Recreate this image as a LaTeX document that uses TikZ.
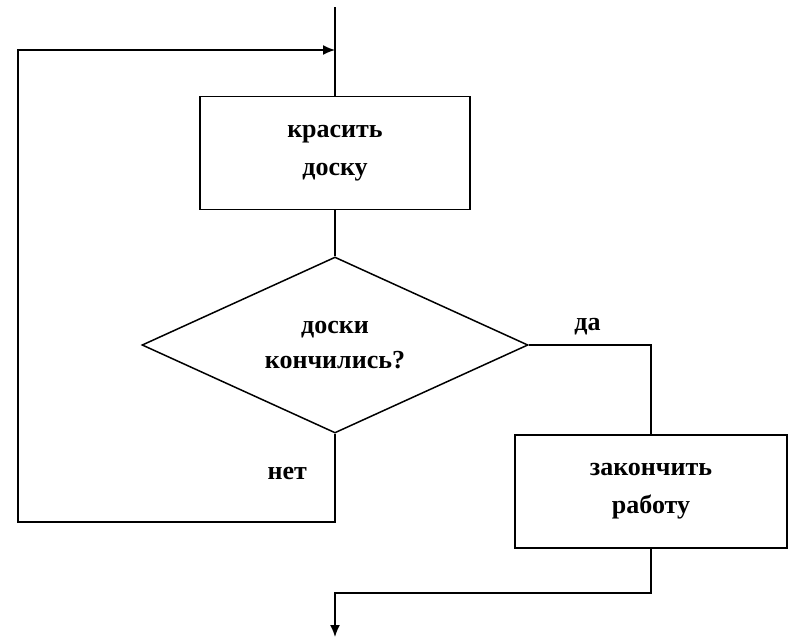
\documentclass[tikz,border=0pt]{standalone}
\usepackage{fontspec}
\setmainfont{Liberation Serif}
\usetikzlibrary{shapes.geometric, arrows.meta}

\begin{document}
\begin{tikzpicture}[x=1pt,y=-1pt,line width=1.5pt,
	box/.style={draw, rectangle, minimum width=270pt, minimum height=113pt, align=center, font=\fontsize{26}{38}\selectfont\bfseries},
	test/.style={draw, diamond, aspect=2.2, inner sep=0pt, minimum width=386pt, minimum height=176pt, align=center, font=\fontsize{26}{35}\selectfont\bfseries},
	lbl/.style={font=\fontsize{26}{28}\selectfont\bfseries},
	>={Latex[length=12pt,width=10pt]}]
		\useasboundingbox (0,0) rectangle (788,641);
		
		\node[box] (paint) at (335,153) {красить\\доску};
		\node[test] (check) at (335,345) {доски\\кончились?};
		\node[box, minimum width=272pt] (done) at (651,491.5) {закончить\\работу};
		
		\coordinate (start) at (335,7);
		\coordinate (join) at (335,50);
		\coordinate (nb) at (335,522);
		\coordinate (lb) at (18,522);
		\coordinate (lt) at (18,50);
		\coordinate (ex) at (335,593);
		\coordinate (stop) at (335,637);
		
		\draw (start) -- (paint) (paint) -- (check);
		\draw (check.east) -| node[lbl, pos=0.24, above=6pt] {да} (done.north);
		\draw[->] (check.south) -- node[lbl, left=24pt, pos=0.45] {нет} (nb) -- (lb) -- (lt) -- (join);
		\draw[->] (done.south) |- (ex) -- (stop);
\end{tikzpicture}
\end{document}
